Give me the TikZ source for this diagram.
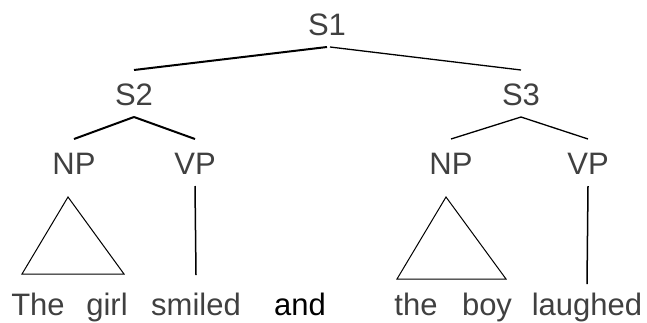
\documentclass[tikz,border=0pt]{standalone}
\usepackage{fontspec}
\setmainfont{Liberation Sans}
\usepackage{tikz}

\definecolor{labelgray}{HTML}{404040}

\tikzset{
  lbl/.style={inner sep=0pt, outer xsep=0pt, outer ysep=6pt, anchor=base,
    text height=11.5pt, text depth=0pt, text=labelgray,
    font=\fontsize{15.5}{18}\selectfont},
  branch/.style={line width=1pt},
  thinbranch/.style={line width=0.65pt},
  stem/.style={line width=0.75pt},
  tri/.style={line width=0.5pt, line join=miter}
}

\begin{document}
\begin{tikzpicture}[x=0.5pt,y=-0.5pt]
				\useasboundingbox (0,0) rectangle (647,322);
				% phrase labels
				\node[lbl] (s1) at (327,35) {S1};
				\node[lbl] (s2) at (134,105) {S2};
				\node[lbl] (s3) at (521,105) {S3};
				\node[lbl] (np1) at (74,174) {NP};
				\node[lbl] (vp1) at (195,174) {VP};
				\node[lbl] (np2) at (451,174) {NP};
				\node[lbl] (vp2) at (588,174) {VP};
				% words
				\node[lbl] (the1) at (38,315) {The};
				\node[lbl] (girl) at (107,315) {girl};
				\node[lbl] (smiled) at (196,315) {smiled};
				\node[lbl,text=black] (and) at (300,315) {and};
				\node[lbl] (the2) at (416,315) {the};
				\node[lbl] (boy) at (487,315) {boy};
				\node[lbl] (laughed) at (587,315) {laughed};
				% branches
				\draw[branch] (s1.south) -- (s2.north);
				\draw[thinbranch] ([xshift=1.5pt]s1.south) -- (s3.north);
				\draw[branch] (s2.south) -- (np1.north);
				\draw[branch] (s2.south) -- (vp1.north);
				\draw[thinbranch] (s3.south) -- (np2.north);
				\draw[thinbranch] (s3.south) -- (vp2.north);
				\draw[stem] (vp1.south) -- ([yshift=2.5pt]smiled.north);
				\draw[stem] (vp2.south) -- ([yshift=-2pt]laughed.north);
				% triangles
				\draw[tri] ([xshift=-3pt,yshift=-5.5pt]np1.south) -- ++(-46,77) -- ++(102,0) -- cycle;
				\draw[tri] ([xshift=-2.5pt,yshift=-5.5pt]np2.south) -- ++(-49,82) -- ++(109,0) -- cycle;
\end{tikzpicture}
\end{document}
